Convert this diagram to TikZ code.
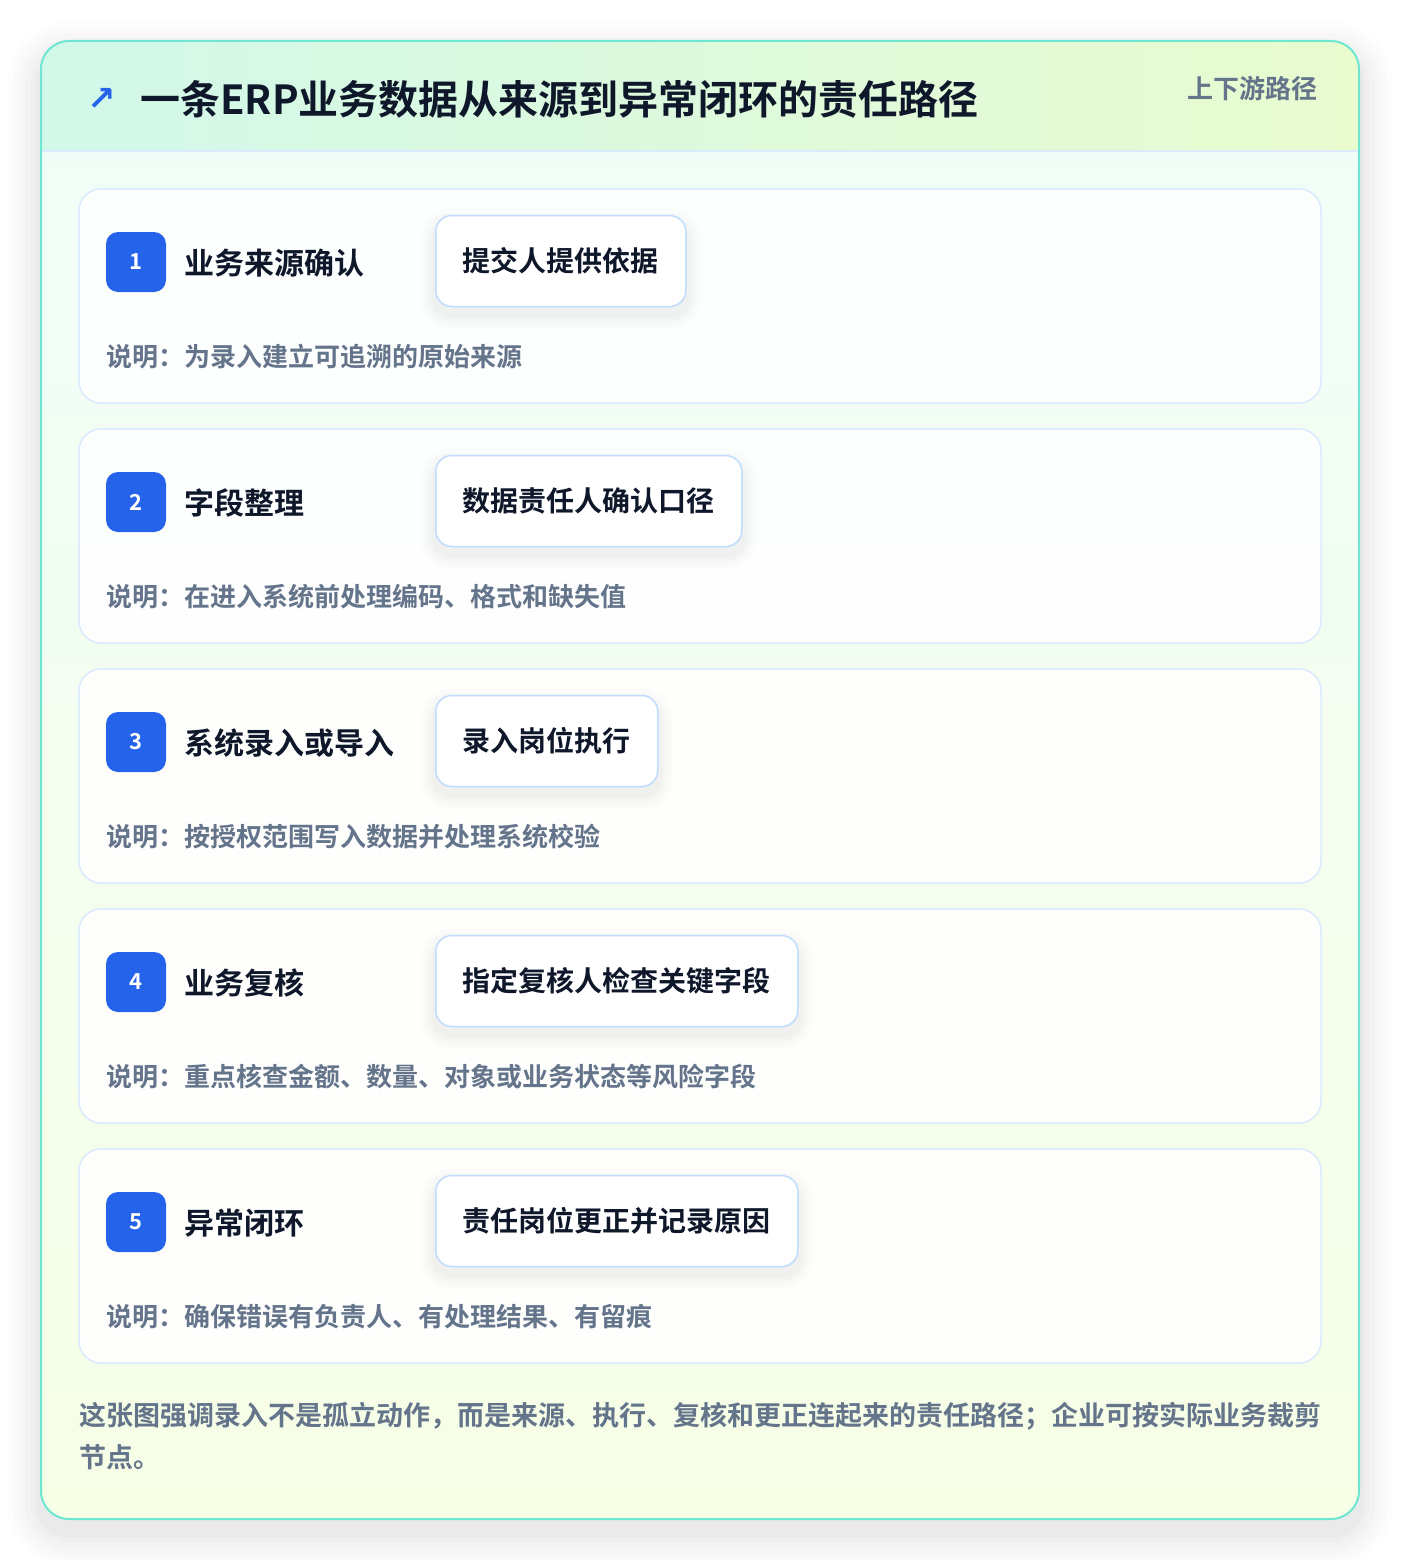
\documentclass[tikz,border=0pt]{standalone}
\usepackage{fontspec}
\setmainfont{Noto Sans CJK SC}[BoldFont={Noto Sans CJK SC Bold}]
\newfontfamily\dejavu{DejaVu Sans}
\definecolor{cardborder}{HTML}{6EE7D2}
\definecolor{hdrleft}{HTML}{D2F8EA}
\definecolor{hdrright}{HTML}{E9FBCF}
\definecolor{bodytop}{HTML}{F0FDF9}
\definecolor{bodybot}{HTML}{F6FEE6}
\definecolor{stepborder}{HTML}{DBEAFE}
\definecolor{roleborder}{HTML}{BFDBFE}
\definecolor{badgeblue}{HTML}{2563EB}
\definecolor{ink}{HTML}{0F172A}
\definecolor{muted}{HTML}{64748B}
\tikzset{
  stepcard/.style={draw=stepborder, line width=1.5pt, fill=white, fill opacity=0.92, rounded corners=22pt},
  badge/.style={fill=badgeblue, rounded corners=12pt, minimum width=60pt, minimum height=60pt, inner sep=0pt, text=white, font=\bfseries\fontsize{22}{26}\selectfont},
  steptitle/.style={anchor=west, inner sep=0pt, text=ink, font=\bfseries\fontsize{30}{36}\selectfont},
  rolebox/.style={anchor=west, draw=roleborder, line width=1.5pt, fill=white, rounded corners=16pt, minimum height=91pt, inner xsep=27pt, text=ink, font=\bfseries\fontsize{28}{34}\selectfont},
  desc/.style={anchor=west, inner sep=0pt, text=muted, font=\bfseries\fontsize{26}{32}\selectfont},
  softshade/.style={fill=black, opacity=#1},
}
\begin{document}
\begin{tikzpicture}[x=1pt,y=-1pt]
\useasboundingbox (0,0) rectangle (1400,1560);
\fill[white] (0,0) rectangle (1400,1560);
% outer shadow
\foreach \i/\o in {34/0.008,28/0.010,22/0.012,16/0.014,10/0.016,5/0.018}{
  \fill[softshade=\o, rounded corners=28pt+\i pt] (41-\i,41-\i+14) rectangle (1359+\i,1519+\i+14);
}
% card body
\path[rounded corners=28pt, top color=bodytop, bottom color=bodybot] (41,41) rectangle (1359,1519);
% header
\begin{scope}
  \clip[rounded corners=28pt] (41,41) rectangle (1359,1519);
  \fill[left color=hdrleft, right color=hdrright] (41,41) rectangle (1359,151);
  \draw[stepborder, line width=1.5pt] (41,151) -- (1359,151);
\end{scope}
\draw[cardborder, line width=2pt, rounded corners=28pt] (41,41) rectangle (1359,1519);
\node[anchor=center, text=badgeblue, font=\dejavu\bfseries\fontsize{34}{40}\selectfont] (icon) at (102,99) {↗};
\node[anchor=west, inner sep=0pt, text=ink, font=\bfseries\fontsize{40}{46}\selectfont] (title) at (140,99) {一条ERP业务数据从来源到异常闭环的责任路径};
\node[anchor=east, inner sep=0pt, text=muted, font=\bfseries\fontsize{26}{32}\selectfont] (tag) at (1318,89) {上下游路径};
% steps
\foreach \n/\t/\r/\d [count=\k from 0] in {
  1/业务来源确认/提交人提供依据/说明：为录入建立可追溯的原始来源,
  2/字段整理/数据责任人确认口径/说明：在进入系统前处理编码、格式和缺失值,
  3/系统录入或导入/录入岗位执行/说明：按授权范围写入数据并处理系统校验,
  4/业务复核/指定复核人检查关键字段/说明：重点核查金额、数量、对象或业务状态等风险字段,
  5/异常闭环/责任岗位更正并记录原因/说明：确保错误有负责人、有处理结果、有留痕}{
  \pgfmathsetmacro{\yy}{189+240*\k}
  \draw[stepcard] (79,\yy) rectangle (1321,\yy+214);
  \node[badge] (b\n) at (136,\yy+73) {\n};
  \node[steptitle] (t\n) at (184,\yy+74) {\t};
  \node[rolebox, draw=none, fill=none, text=white, text opacity=0] (s\n) at (435,\yy+72) {\r};
  \foreach \i/\o in {14/0.010,10/0.012,6/0.014,3/0.016}{
    \fill[softshade=\o, rounded corners=16pt+\i pt] ([xshift=-\i pt, yshift=\i pt-8pt]s\n.north west) rectangle ([xshift=\i pt, yshift=-\i pt-8pt]s\n.south east);
  }
  \node[rolebox] (r\n) at (435,\yy+72) {\r};
  \node[desc] (d\n) at (106,\yy+168) {\d};
}
\node[anchor=north west, inner sep=0pt, text=muted, align=left, font=\bfseries\fontsize{27}{42}\selectfont] (foot) at (79,1402) {这张图强调录入不是孤立动作，而是来源、执行、复核和更正连起来的责任路径；企业可按实际业务裁剪\\节点。};
\end{tikzpicture}
\end{document}
